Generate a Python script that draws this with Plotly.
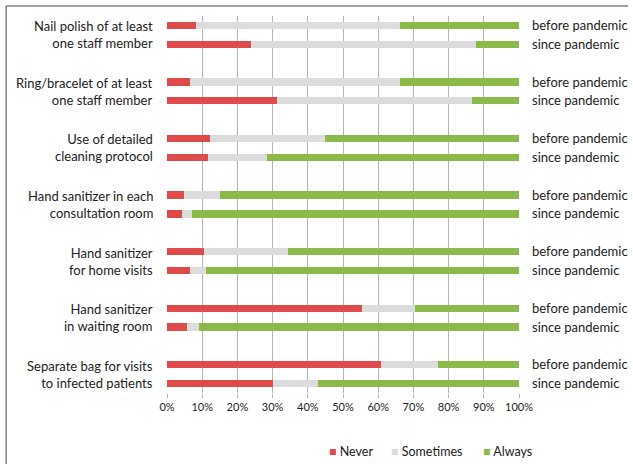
import plotly.graph_objects as go

items = [
    "Nail polish of at least<br>one staff member",
    "Ring/bracelet of at least<br>one staff member",
    "Use of detailed<br>cleaning protocol",
    "Hand sanitizer in each<br>consultation room",
    "Hand sanitizer<br>for home visits",
    "Hand sanitizer<br>in waiting room",
    "Separate bag for visits<br>to infected patients",
]
periods = ["before pandemic", "since pandemic"]

# values per item: [before, since]
never = [[8.2, 23.8], [6.6, 31.3], [12.3, 11.6], [4.9, 4.4], [10.5, 6.6], [55.3, 5.6], [60.8, 30.1]]
sometimes = [[57.9, 64.0], [59.5, 55.3], [32.6, 16.8], [10.1, 2.8], [23.9, 4.5], [15.1, 3.5], [16.3, 12.8]]
always = [[33.9, 12.2], [33.9, 13.4], [55.1, 71.6], [85.0, 92.8], [65.6, 88.9], [29.6, 90.9], [22.9, 57.1]]

series = [("Never", never, "#DF4B4B"), ("Sometimes", sometimes, "#DCDCDC"), ("Always", always, "#8BBA4B")]

FONT = "Lato"
TXT = "#222222"
ypos = []
ylab = []
for g in range(len(items)):
    for p in range(len(periods)):
        ypos.append(3 * g + p)
        ylab.append(periods[p])

fig = go.Figure()
for name, vals, color in series:
    xs = [v for pair in vals for v in pair]
    fig.add_trace(go.Bar(
        x=xs, y=ypos, orientation="h", name=name,
        marker=dict(color=color, line=dict(width=0)),
        width=0.38, showlegend=False,
    ))

for g, label in enumerate(items):
    fig.add_annotation(
        x=-0.035, xref="paper", y=3 * g + 0.5, yref="y",
        text=label, showarrow=False, xanchor="right", yanchor="middle",
        align="right", font=dict(family=FONT, size=13, color=TXT),
    )

# legend built from series names/colours
leg_x = [0.455, 0.632, 0.893]
for (name, _, color), lx in zip(series, leg_x):
    fig.add_annotation(
        x=lx, xref="paper", y=-0.156, yref="paper",
        text=f"<span style='color:{color}'>■</span> {name}",
        showarrow=False, xanchor="left", yanchor="middle",
        font=dict(family=FONT, size=12.5, color=TXT),
    )

# frame (left and top lines)
fig.add_shape(type="line", xref="paper", yref="paper", x0=-0.457, x1=-0.457, y0=-0.3, y1=1.0265,
              line=dict(color="#444444", width=1))
fig.add_shape(type="line", xref="paper", yref="paper", x0=-0.457, x1=1.31, y0=1.0265, y1=1.0265,
              line=dict(color="#444444", width=1))

fig.update_layout(
    width=633, height=464,
    margin=dict(l=167, r=114, t=16, b=71),
    barmode="stack",
    bargap=0,
    plot_bgcolor="white", paper_bgcolor="white",
    font=dict(family=FONT, color=TXT),
    showlegend=False,
    xaxis=dict(range=[0, 100], tickvals=list(range(0, 101, 10)),
               ticktext=[f"{v}%" for v in range(0, 101, 10)],
               showgrid=True, gridcolor="#B5B5B5", gridwidth=1.4,
               zeroline=False, showline=False, ticks="outside", ticklen=4,
               tickcolor="#B5B5B5", automargin=False,
               tickfont=dict(family=FONT, size=11, color=TXT)),
    yaxis=dict(range=[19.5, -0.5], tickvals=ypos, ticktext=ylab, side="right",
               showgrid=False, zeroline=False, showline=False, ticks="",
               ticklabelstandoff=12, automargin=False,
               tickfont=dict(family=FONT, size=13, color=TXT)),
)

fig.write_html("out.html", config={"displayModeBar": False},
               post_script="document.body.style.margin='0';document.body.style.overflow='hidden';")
